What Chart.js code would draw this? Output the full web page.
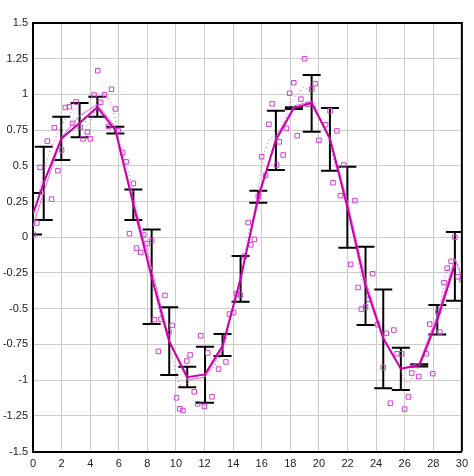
<!DOCTYPE html>
<html>
<head>
<meta charset="utf-8">
<script src="https://cdn.jsdelivr.net/npm/chart.js@4"></script>
<style>
  html, body { margin: 0; padding: 0; background: #fff; }
  #wrap { width: 474px; height: 476px; position: relative; }
</style>
</head>
<body>
<div id="wrap"><canvas id="chart"></canvas></div>
<script>
// binned means with error bars
const barX = [0, 0.75, 1.98, 3.26, 4.5, 5.76, 7.02, 8.3, 9.53, 10.79, 12.03, 13.26, 14.52, 15.76, 16.99, 18.25, 19.49, 20.77, 21.99, 23.26, 24.5, 25.73, 27.02, 28.28, 29.51];
const barMean = [0.165, 0.38, 0.69, 0.80, 0.91, 0.75, 0.23, -0.28, -0.73, -0.98, -0.96, -0.76, -0.29, 0.285, 0.68, 0.904, 0.94, 0.69, 0.21, -0.34, -0.71, -0.92, -0.897, -0.58, -0.19];
const barLow = [0.02, 0.12, 0.54, 0.70, 0.844, 0.727, 0.12, -0.608, -0.965, -1.051, -1.159, -0.832, -0.452, 0.242, 0.47, 0.898, 0.739, 0.466, -0.073, -0.615, -1.058, -1.07, -0.905, -0.68, -0.445];
const barHigh = [0.31, 0.634, 0.844, 0.94, 0.984, 0.774, 0.335, 0.055, -0.49, -0.907, -0.767, -0.678, -0.132, 0.326, 0.886, 0.91, 1.136, 0.905, 0.494, -0.066, -0.365, -0.774, -0.89, -0.475, 0.036];

// raw samples
const sampleX = [0.02, 0.27, 0.5, 1.0, 1.3, 1.49, 1.74, 2.0, 2.26, 2.54, 2.77, 3.02, 3.3, 3.5, 3.8, 4.01, 4.27, 4.53, 4.73, 5.01, 5.27, 5.49, 5.77, 5.96, 6.27, 6.51, 6.75, 7.02, 7.24, 7.54, 7.74, 7.98, 8.3, 8.5, 8.77, 8.95, 9.23, 9.51, 9.73, 10.04, 10.27, 10.49, 10.76, 10.99, 11.28, 11.52, 11.74, 11.99, 12.22, 12.52, 12.98, 13.5, 13.74, 14.03, 14.23, 14.51, 14.78, 15.05, 15.23, 15.48, 15.76, 15.99, 16.27, 16.5, 16.73, 17.04, 17.23, 17.5, 17.73, 17.95, 18.24, 18.48, 18.74, 19.0, 19.23, 19.5, 19.73, 20.0, 20.47, 20.78, 20.98, 21.26, 21.5, 21.74, 22.22, 22.52, 22.74, 22.97, 23.26, 23.47, 23.76, 24.1, 24.5, 24.71, 25.0, 25.24, 25.47, 25.77, 25.99, 26.26, 26.49, 26.99, 27.5, 27.75, 27.97, 28.33, 28.45, 28.75, 28.97, 29.25, 29.51, 29.73, 30.0];
const sampleY = [0.02, 0.10, 0.489, 0.673, 0.267, 0.767, 0.466, 0.611, 0.908, 0.914, 0.797, 0.947, 0.770, 0.689, 0.737, 0.689, 0.996, 1.166, 0.945, 0.998, 0.776, 1.036, 0.898, 0.746, 0.593, 0.528, 0.025, 0.377, -0.076, -0.106, 0.019, -0.045, -0.025, -0.577, -0.799, -0.575, -0.407, -0.665, -0.617, -1.124, -1.201, -1.213, -0.866, -0.824, -1.082, -1.166, -0.690, -1.185, -0.810, -1.117, -0.923, -0.873, -0.538, -0.527, -0.395, -0.405, -0.132, 0.103, -0.053, -0.015, 0.286, 0.564, 0.433, 0.791, 0.934, 0.506, 0.668, 0.576, 0.762, 1.008, 1.082, 0.711, 0.967, 1.25, 0.930, 1.038, 1.075, 0.679, 0.788, 0.885, 0.382, 0.745, 0.291, 0.506, -0.19, 0.257, -0.352, -0.503, -0.488, -0.434, -0.255, -0.612, -0.911, -0.673, -1.162, -0.650, -0.816, -0.816, -1.203, -1.118, -0.951, -0.975, -0.816, -0.608, -0.955, -0.522, -0.664, -0.318, -0.217, -0.169, 0.0, -0.277, -0.297];

// thin reference curve
const refX = [0, 2, 3.26, 4.5, 5.76, 7.02, 8.3, 9.53, 10.79, 12.03, 13.26, 14.52, 15.76, 16.99, 18.25, 19.49, 20.77, 21.99, 23.26, 24.5, 25.73, 27.02, 28.28, 29.51, 30];
const refY = [0.08, 0.70, 0.85, 0.93, 0.77, 0.25, -0.22, -0.72, -1.0, -0.98, -0.78, -0.28, 0.25, 0.70, 0.92, 0.95, 0.70, 0.25, -0.30, -0.70, -0.92, -0.88, -0.55, -0.15, -0.28];

// dotted smoothed curve
const smoothX = [0, 0.5, 1.0, 1.5, 2.0, 2.5, 3.0, 3.5, 3.8, 4.2, 4.6, 5.0, 5.4, 5.7, 6.0, 6.5, 7.0, 7.5, 8.0, 8.5, 9.0, 9.5, 10.0, 10.5, 11.0, 11.5, 12.0, 12.5, 13.0, 13.5, 14.0, 14.5, 15.0, 15.5, 16.0, 16.5, 17.0, 17.5, 18.0, 18.5, 19.0, 19.5, 20.0, 20.5, 21.0, 21.5, 22.0, 22.5, 23.0, 23.5, 24.0, 24.5, 25.0, 25.5, 26.0, 26.3, 26.6, 27.0, 27.5, 28.0, 28.5, 29.0, 29.5, 30.0];
const smoothY = [0.05, 0.35, 0.55, 0.68, 0.78, 0.86, 0.90, 0.86, 0.78, 0.85, 0.97, 1.0, 0.95, 0.85, 0.70, 0.52, 0.33, 0.08, -0.05, -0.35, -0.58, -0.72, -0.95, -1.06, -1.0, -0.98, -0.98, -0.93, -0.85, -0.72, -0.50, -0.35, 0.0, 0.15, 0.50, 0.68, 0.72, 0.80, 0.95, 1.0, 1.05, 0.98, 0.85, 0.75, 0.55, 0.40, 0.20, 0.0, -0.30, -0.40, -0.55, -0.68, -0.78, -0.88, -1.0, -1.02, -0.97, -0.90, -0.80, -0.65, -0.45, -0.22, -0.15, -0.30];

(function () {
  'use strict';

  const CAP = 9;
  const FONT = { family: '"Liberation Sans", Arial, sans-serif', size: 11 };

  function toPoints(xs, ys) {
    return xs.map((x, i) => ({ x: x, y: ys[i] }));
  }

  const errorBars = {
    id: 'errorBars',
    beforeDatasetsDraw(chart) {
      const { ctx, chartArea, scales } = chart;
      ctx.save();
      ctx.beginPath();
      ctx.rect(chartArea.left, chartArea.top, chartArea.width, chartArea.height);
      ctx.clip();
      ctx.strokeStyle = '#000';
      ctx.lineWidth = 2;
      barX.forEach((bx, i) => {
        const px = scales.x.getPixelForValue(bx);
        const top = scales.y.getPixelForValue(barHigh[i]);
        const bot = scales.y.getPixelForValue(barLow[i]);
        ctx.beginPath();
        ctx.moveTo(px, top); ctx.lineTo(px, bot);
        ctx.moveTo(px - CAP, top); ctx.lineTo(px + CAP, top);
        ctx.moveTo(px - CAP, bot); ctx.lineTo(px + CAP, bot);
        ctx.stroke();
      });
      ctx.restore();
    }
  };

  // top and right edges of the plot box
  const frame = {
    id: 'frame',
    afterDraw(chart) {
      const { ctx, chartArea } = chart;
      ctx.save();
      ctx.strokeStyle = '#000';
      ctx.lineWidth = 2;
      ctx.beginPath();
      ctx.moveTo(chartArea.left, chartArea.top);
      ctx.lineTo(chartArea.right, chartArea.top);
      ctx.lineTo(chartArea.right, chartArea.bottom);
      ctx.stroke();
      ctx.restore();
    }
  };

  new Chart(document.getElementById('chart'), {
    type: 'scatter',
    data: {
      datasets: [
        {
          data: toPoints(barX, barMean),
          showLine: true,
          borderColor: '#cc00aa',
          borderWidth: 2,
          pointRadius: 0,
          order: 0
        },
        {
          data: toPoints(refX, refY),
          showLine: true,
          borderColor: '#f060d8',
          borderWidth: 1,
          pointRadius: 0,
          order: 1
        },
        {
          data: toPoints(smoothX, smoothY),
          showLine: true,
          borderColor: '#dd44dd',
          borderWidth: 1,
          borderDash: [1, 3],
          tension: 0.35,
          pointRadius: 0,
          order: 2
        },
        {
          data: toPoints(sampleX, sampleY),
          pointStyle: 'rect',
          pointRadius: 3.2,
          pointBorderWidth: 1,
          pointBorderColor: '#d040d0',
          pointBackgroundColor: 'rgba(0,0,0,0)',
          order: 3
        }
      ]
    },
    options: {
      responsive: true,
      maintainAspectRatio: false,
      animation: false,
      events: [],
      layout: { padding: { top: 23, right: 12, left: 0, bottom: 0 } },
      plugins: {
        legend: { display: false },
        tooltip: { enabled: false }
      },
      scales: {
        x: {
          type: 'linear',
          min: 0,
          max: 30,
          afterFit: function (scale) { scale.height = 24.5; },
          ticks: { stepSize: 2, color: '#222', font: FONT, padding: 6, maxRotation: 0 },
          grid: { color: '#cccccc', lineWidth: 1, drawTicks: false },
          border: { color: '#000', width: 2 }
        },
        y: {
          min: -1.5,
          max: 1.5,
          afterFit: function (scale) { scale.width = 33; },
          ticks: {
            stepSize: 0.25,
            color: '#222',
            font: FONT,
            padding: 5,
            callback: v => String(parseFloat(v.toFixed(2)))
          },
          grid: { color: '#cccccc', lineWidth: 1, drawTicks: false },
          border: { color: '#000', width: 2 }
        }
      }
    },
    plugins: [errorBars, frame]
  });
})();
</script>
</body>
</html>
